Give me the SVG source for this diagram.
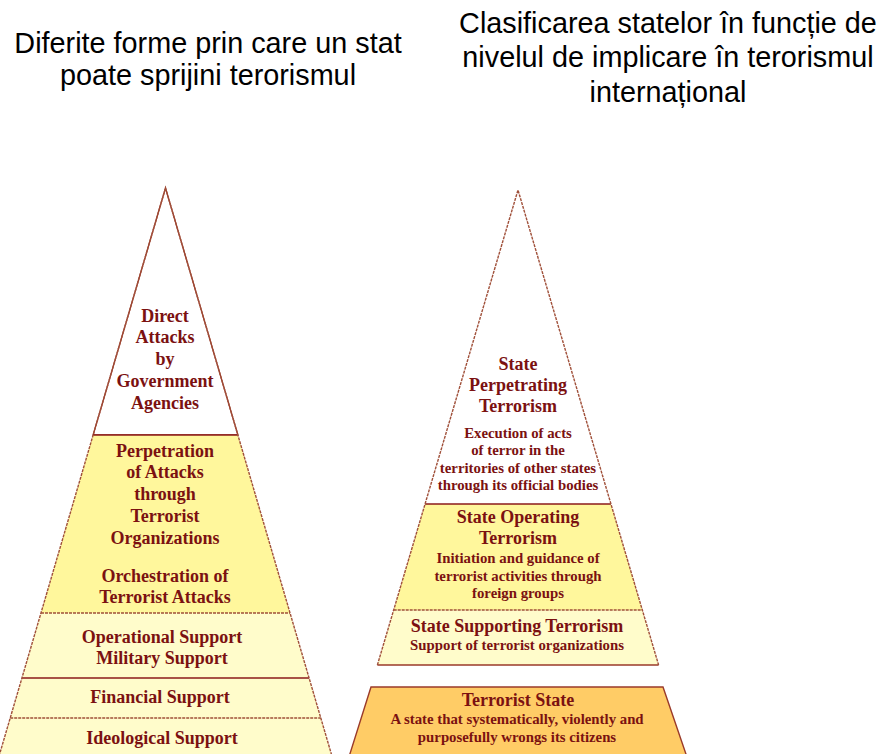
<svg xmlns="http://www.w3.org/2000/svg" width="885" height="754" viewBox="0 0 885 754">
<style>
.title{font-family:"Liberation Sans",Arial,sans-serif;font-size:28.8px;fill:#000;text-anchor:middle}
.t{font-family:"Liberation Serif","Times New Roman",serif;font-weight:bold;font-size:18px;fill:#7B1111;text-anchor:middle}
.s{font-family:"Liberation Serif","Times New Roman",serif;font-weight:bold;font-size:14.8px;fill:#7B1111;text-anchor:middle}
.edge{stroke:#9A3A2A;stroke-width:1.4;stroke-linejoin:miter}
.solid{stroke:#8B1A1A;stroke-width:1.6}
.dot{stroke:#A0503A;stroke-width:1.4;stroke-dasharray:3 1}
.white{fill:#FFFFFF}
.yel{fill:#FFF79C}
.lt{fill:#FFFCCB}
.org{fill:#FFCC66}
</style>
<rect width="885" height="754" fill="#FFFFFF"/>
<g id="title-left">
<text class="title" x="208" y="53">Diferite forme prin care un stat</text>
<text class="title" x="208" y="85">poate sprijini terorismul</text>
</g>
<g id="title-right">
<text class="title" x="668" y="33">Clasificarea statelor în funcție de</text>
<text class="title" x="668" y="67">nivelul de implicare în terorismul</text>
<text class="title" x="668" y="102">internațional</text>
</g>
<g id="left-direct">
<polygon class="white edge" points="165.5,188 93.1,435 237.9,435"/>
<text class="t" x="165" y="322">Direct</text>
<text class="t" x="165" y="343">Attacks</text>
<text class="t" x="165" y="365">by</text>
<text class="t" x="165" y="387">Government</text>
<text class="t" x="165" y="409">Agencies</text>
</g>
<g id="left-perpetration">
<polygon class="yel" points="93.1,435 237.9,435 290,613 41,613"/>
<line class="solid" x1="93.1" y1="435" x2="237.9" y2="435"/>
<text class="t" x="165" y="457">Perpetration</text>
<text class="t" x="165" y="478">of Attacks</text>
<text class="t" x="165" y="500">through</text>
<text class="t" x="165" y="522">Terrorist</text>
<text class="t" x="165" y="544">Organizations</text>
<text class="t" x="165" y="582">Orchestration of</text>
<text class="t" x="165" y="603">Terrorist Attacks</text>
</g>
<g id="left-operational">
<polygon class="lt" points="41,613 290,613 309.1,678 21.9,678"/>
<line class="dot" x1="41" y1="613" x2="290" y2="613"/>
<text class="t" x="162" y="643">Operational Support</text>
<text class="t" x="162" y="664">Military Support</text>
</g>
<g id="left-financial">
<polygon class="lt" points="21.9,678 309.1,678 320.8,718 10.2,718"/>
<line class="solid" x1="21.9" y1="678" x2="309.1" y2="678"/>
<text class="t" x="160" y="703">Financial Support</text>
</g>
<g id="left-ideological">
<polygon class="lt" points="10.2,718 320.8,718 333.1,760 -2.1,760"/>
<line class="dot" x1="10.2" y1="718" x2="320.8" y2="718"/>
<text class="t" x="162" y="744">Ideological Support</text>
</g>
<g id="left-outline">
<polyline class="edge dot" fill="none" points="-2.1,760 165.5,188 333.1,760"/>
</g>
<g id="right-perpetrating">
<polygon class="white" points="518,190 425.1,504 610.9,504"/>
<text class="t" x="518" y="370">State</text>
<text class="t" x="518" y="391">Perpetrating</text>
<text class="t" x="518" y="412">Terrorism</text>
<text class="s" x="518" y="438">Execution of acts</text>
<text class="s" x="518" y="455">of terror in the</text>
<text class="s" x="518" y="473">territories of other states</text>
<text class="s" x="518" y="490">through its official bodies</text>
</g>
<g id="right-operating">
<polygon class="yel" points="425.1,504 610.9,504 642.3,610 393.7,610"/>
<line class="solid" x1="425.1" y1="504" x2="610.9" y2="504"/>
<text class="t" x="518" y="523">State Operating</text>
<text class="t" x="518" y="544">Terrorism</text>
<text class="s" x="518" y="563">Initiation and guidance of</text>
<text class="s" x="518" y="581">terrorist activities through</text>
<text class="s" x="518" y="598">foreign groups</text>
</g>
<g id="right-supporting">
<polygon class="lt" points="393.7,610 642.3,610 658.6,665 377.4,665"/>
<line class="dot" x1="393.7" y1="610" x2="642.3" y2="610"/>
<line class="edge" x1="377.4" y1="665" x2="658.6" y2="665"/>
<text class="t" x="517" y="632">State Supporting Terrorism</text>
<text class="s" x="517" y="650">Support of terrorist organizations</text>
</g>
<g id="right-outline">
<polyline class="edge dot" fill="none" points="377.4,665 518,190 658.6,665"/>
</g>
<g id="right-terrorist-state">
<polygon class="org edge" points="371,687 663,687 688,760 348,760"/>
<text class="t" x="518" y="706">Terrorist State</text>
<text class="s" x="517" y="724">A state that systematically, violently and</text>
<text class="s" x="517" y="742">purposefully wrongs its citizens</text>
</g>
<g id="connectors"></g>
</svg>
